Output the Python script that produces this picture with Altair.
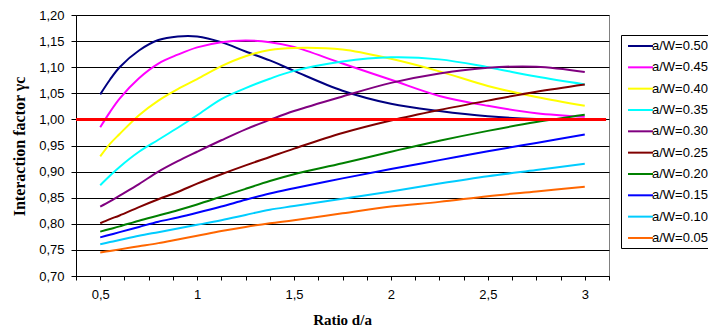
import altair as alt
import pandas as pd

# Ratio d/a sample positions
x_vals = [0.5, 0.55, 0.6, 0.7, 0.8, 0.9, 1.0, 1.125, 1.25, 1.375, 1.5, 1.75, 2.0, 2.25, 2.5, 2.75, 3.0]

aw_050 = [1.048, 1.076, 1.100, 1.132, 1.152, 1.159, 1.159, 1.148, 1.130, 1.113, 1.093, 1.055, 1.030, 1.016, 1.006, 1.001, 1.000]
aw_045 = [0.985, 1.014, 1.040, 1.079, 1.107, 1.124, 1.138, 1.148, 1.151, 1.148, 1.139, 1.107, 1.076, 1.045, 1.026, 1.012, 1.005]
aw_040 = [0.929, 0.953, 0.972, 1.008, 1.036, 1.058, 1.077, 1.102, 1.121, 1.133, 1.137, 1.134, 1.116, 1.092, 1.064, 1.043, 1.026]
aw_035 = [0.874, 0.892, 0.909, 0.938, 0.961, 0.984, 1.008, 1.039, 1.060, 1.078, 1.093, 1.111, 1.119, 1.115, 1.100, 1.082, 1.067]
aw_030 = [0.833, 0.843, 0.854, 0.876, 0.900, 0.920, 0.938, 0.960, 0.981, 0.999, 1.016, 1.044, 1.070, 1.088, 1.099, 1.101, 1.091]
aw_025 = [0.801, 0.809, 0.816, 0.832, 0.847, 0.861, 0.877, 0.895, 0.912, 0.928, 0.944, 0.974, 0.998, 1.018, 1.036, 1.053, 1.067]
aw_020 = [0.785, 0.790, 0.795, 0.806, 0.816, 0.826, 0.837, 0.852, 0.867, 0.882, 0.895, 0.916, 0.938, 0.959, 0.978, 0.995, 1.009]
aw_015 = [0.774, 0.779, 0.784, 0.794, 0.804, 0.812, 0.821, 0.833, 0.846, 0.858, 0.868, 0.887, 0.905, 0.922, 0.939, 0.955, 0.971]
aw_010 = [0.761, 0.765, 0.769, 0.777, 0.784, 0.791, 0.798, 0.807, 0.817, 0.827, 0.834, 0.848, 0.862, 0.877, 0.891, 0.903, 0.915]
aw_005 = [0.745, 0.748, 0.751, 0.757, 0.763, 0.770, 0.777, 0.786, 0.794, 0.801, 0.807, 0.820, 0.833, 0.842, 0.853, 0.862, 0.871]

series_names = ["a/W=0.50", "a/W=0.45", "a/W=0.40", "a/W=0.35", "a/W=0.30",
                "a/W=0.25", "a/W=0.20", "a/W=0.15", "a/W=0.10", "a/W=0.05"]
series_values = [aw_050, aw_045, aw_040, aw_035, aw_030, aw_025, aw_020, aw_015, aw_010, aw_005]
series_colors = ["#000080", "#FF00FF", "#FFFF00", "#00FFFF", "#800080",
                 "#800000", "#008000", "#0000FF", "#00CCFF", "#FF6600"]

# reference line gamma = 1
ref_x = [0.375, 3.11]
ref_y = [1.0, 1.0]

x_ticks = [0.375, 0.5, 0.625, 0.75, 0.875, 1.0, 1.125, 1.25, 1.375, 1.5, 1.625, 1.75,
           1.875, 2.0, 2.125, 2.25, 2.375, 2.5, 2.625, 2.75, 2.875, 3.0, 3.125]
y_ticks = [0.70, 0.75, 0.80, 0.85, 0.90, 0.95, 1.00, 1.05, 1.10, 1.15, 1.20]

rows = []
for name, vals in zip(series_names, series_values):
    for i, (xv, yv) in enumerate(zip(x_vals, vals)):
        rows.append({"x": xv, "y": yv, "series": name, "idx": i})
df = pd.DataFrame(rows)
ref_df = pd.DataFrame({"x": ref_x, "y": ref_y})

x_scale = alt.Scale(domain=[0.375, 3.125], nice=False, zero=False)
y_scale = alt.Scale(domain=[0.70, 1.20], nice=False, zero=False)

x_axis = alt.Axis(
    values=x_ticks, tickCount=40,
    labelExpr="(datum.value * 2) % 1 == 0 ? replace(format(datum.value, '~g'), '.', ',') : ''",
    grid=False, domainColor="#000000", tickColor="#000000", tickSize=4,
    labelFont="Liberation Sans", labelFontSize=13, labelColor="#000000", labelPadding=8,
    labelFlush=False, labelOverlap=False,
    title="Ratio d/a", titleFont="Liberation Serif", titleFontSize=15, titleFontWeight="bold",
    titleColor="#000000", titleX=266, titleY=48, titleBaseline="alphabetic", titleAlign="center",
)
y_axis = alt.Axis(
    values=y_ticks, tickCount=40,
    labelExpr="replace(format(datum.value, '.2f'), '.', ',')",
    grid=True, gridColor="#000000", gridOpacity=1, gridWidth=1,
    domainColor="#000000", tickColor="#000000", tickSize=5,
    labelFont="Liberation Sans", labelFontSize=13, labelColor="#000000", labelPadding=7,
    labelFlush=False, labelOverlap=False,
    title="Interaction factor γc", titleFont="Liberation Serif", titleFontSize=16,
    titleFontWeight="bold", titleColor="#000000", titleX=-57, titleY=131,
    titleBaseline="middle", titleAlign="center", titleAngle=270,
)

lines = alt.Chart(df).mark_line(strokeWidth=2, interpolate="catmull-rom").encode(
    x=alt.X("x:Q", scale=x_scale, axis=x_axis),
    y=alt.Y("y:Q", scale=y_scale, axis=y_axis),
    color=alt.Color(
        "series:N",
        scale=alt.Scale(domain=series_names, range=series_colors),
        sort=series_names,
        legend=alt.Legend(
            title=None, orient="none", legendX=545, legendY=20,
            strokeColor="#000000", fillColor="#ffffff", padding=3,
            symbolType="M-1.786,0H1.786", symbolSize=196, symbolStrokeWidth=2,
            symbolOffset=8.5, labelOffset=3.5, rowPadding=6.33,
            labelFont="Liberation Sans", labelFontSize=13, labelColor="#000000",
            labelLimit=200,
        ),
    ),
    order=alt.Order("idx:Q"),
)

ref_line = alt.Chart(ref_df).mark_line(color="#FF0000", strokeWidth=3).encode(
    x=alt.X("x:Q", scale=x_scale),
    y=alt.Y("y:Q", scale=y_scale),
)

chart = alt.layer(lines, ref_line).properties(
    width=533, height=261,
    autosize=alt.AutoSizeParams(type="none"),
    padding={"left": 68, "top": 7, "right": 99, "bottom": 52},
    background="#ffffff",
).configure_view(stroke="#808080", strokeWidth=1)

chart.save("out.html", embed_options={"renderer": "svg", "actions": False})
